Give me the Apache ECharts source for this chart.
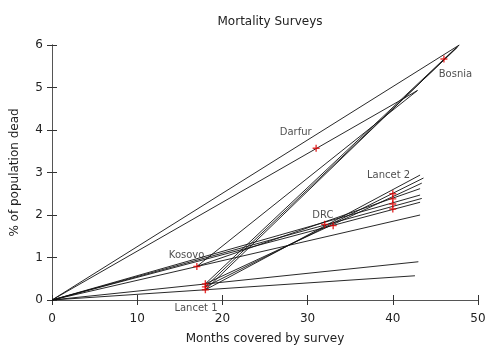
<!DOCTYPE html>
<html>
<head>
<meta charset="utf-8">
<script src="https://cdn.jsdelivr.net/npm/echarts@6/dist/echarts.min.js"></script>
<style>html,body{margin:0;padding:0;background:#fff;}#c{width:500px;height:346px;}</style>
</head>
<body>
<div id="c"></div>
<script>
// Survey points (months, % dead)
const surveyPoints = [
  [46, 5.67],            // Bosnia
  [31, 3.57],            // Darfur
  [40, 2.50], [40, 2.38], [40, 2.26], [40, 2.14], // Lancet 2
  [32, 1.78], [33, 1.75], // DRC
  [17, 0.79],            // Kosovo
  [18, 0.24], [18, 0.31], [18, 0.38] // Lancet 1
];
// Line segments: start and end points
const lineStarts = [
  [0, 0], [0, 0], [0, 0], [0, 0], [0, 0], [0, 0], [0, 0], [0, 0],
  [18, 0.24], [18, 0.31], [18, 0.38],
  [18, 0.24], [18, 0.31], [18, 0.38],
  [17, 0.79], [17, 0.79]
];
const lineEnds = [
  [47.8, 6.0], [42.9, 4.93], [43.2, 2.0], [42.6, 0.57], [43.0, 0.90],
  [43.2, 2.47], [43.4, 2.39], [43.2, 2.30],
  [47.8, 6.0], [47.6, 5.95], [47.4, 5.93],
  [43.2, 2.94], [43.6, 2.87], [43.4, 2.75],
  [42.9, 4.93], [43.2, 2.62]
];
// Text labels and their positions
const labelNames = ['Bosnia', 'Darfur', 'Lancet 2', 'DRC', 'Kosovo', 'Lancet 1'];
const labelPos = [[47.35, 5.3], [28.6, 3.94], [39.5, 2.93], [31.8, 1.99], [15.8, 1.06], [16.9, -0.2]];
const xTicks = [0, 10, 20, 30, 40, 50];
const yTicks = [0, 1, 2, 3, 4, 5, 6];

const chart = echarts.init(document.getElementById('c'), null, {renderer: 'canvas'});
const lineSeries = lineStarts.map((s, i) => ({
  type: 'line', data: [s, lineEnds[i]], showSymbol: false, silent: true,
  lineStyle: {color: '#111', width: 0.9}, animation: false, z: 2
}));
const axisCommon = {
  type: 'value',
  axisLine: {show: true, lineStyle: {color: '#555', width: 1}},
  axisTick: {show: true, inside: true, length: 5, lineStyle: {color: '#333'}},
  splitLine: {show: false}
};
chart.setOption({
  animation: false,
  title: {text: 'Mortality Surveys', left: 265, top: 11, textAlign: 'center',
    textStyle: {fontFamily: 'DejaVu Sans', fontSize: 12, fontWeight: 'normal', color: '#222'}},
  grid: {left: 52, right: 22, top: 45, bottom: 46, containLabel: false, outerBoundsMode: 'none'},
  xAxis: [
    Object.assign({}, axisCommon, {min: 0, max: 50, interval: 10, position: 'bottom',
      name: 'Months covered by survey', nameLocation: 'middle', nameGap: 33,
      nameTextStyle: {fontFamily: 'DejaVu Sans', fontSize: 12, color: '#222'},
      axisLabel: {margin: 13, fontFamily: 'DejaVu Sans', fontSize: 12, color: '#222',
        formatter: v => xTicks.includes(v) ? String(v) : ''}}),
    Object.assign({}, axisCommon, {min: 0, max: 50, interval: 10, position: 'top', axisLabel: {show: false}})
  ],
  yAxis: [
    Object.assign({}, axisCommon, {min: 0, max: 6, interval: 1, position: 'left',
      name: '% of population dead', nameLocation: 'middle', nameGap: 31,
      nameTextStyle: {fontFamily: 'DejaVu Sans', fontSize: 12, color: '#222'},
      axisLabel: {margin: 9, fontFamily: 'DejaVu Sans', fontSize: 12, color: '#222',
        formatter: v => yTicks.includes(v) ? String(v) : ''}}),
    Object.assign({}, axisCommon, {min: 0, max: 6, interval: 1, position: 'right', axisLabel: {show: false}})
  ],
  series: lineSeries.concat([
    {
      type: 'scatter', data: surveyPoints, silent: true, z: 5,
      symbol: 'path://M4,0h2v4h4v2h-4v4h-2v-4h-4v-2h4z', symbolSize: 7,
      itemStyle: {color: '#e00000'}
    },
    {
      type: 'scatter', silent: true, clip: false, symbolSize: 0, z: 6,
      data: labelNames.map((n, i) => ({name: n, value: labelPos[i]})),
      label: {show: true, position: 'inside', formatter: p => p.name,
        fontFamily: 'DejaVu Sans', fontSize: 10, color: '#222'}
    }
  ])
});
</script>
</body>
</html>
